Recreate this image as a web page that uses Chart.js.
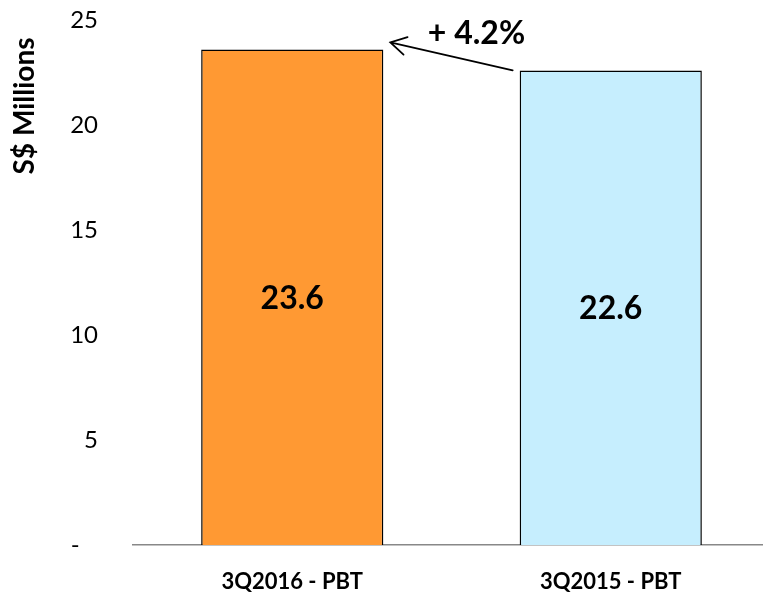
<!DOCTYPE html>
<html>
<head>
<meta charset="utf-8">
<script src="https://cdn.jsdelivr.net/npm/chart.js@4/dist/chart.umd.min.js"></script>
<style>
  html, body { margin: 0; padding: 0; background: #ffffff; }
  #wrap { width: 763px; height: 593px; overflow: hidden; }
  canvas { display: block; }
</style>
</head>
<body>
<div id="wrap"><canvas id="c" width="770" height="593"></canvas></div>
<script>
// Profit before tax, third quarter comparison
const categories = ['3Q2016 - PBT', '3Q2015 - PBT'];
const pbtValues = [23.6, 22.6];
const barColors = ['#FF9933', '#C6EEFE'];
const yAxisTitle = 'S$ Millions';
const changeLabel = '+ 4.2%';

const FONT = 'Lato, "Open Sans", sans-serif';

// Value printed in the middle of each bar
const barValueLabels = {
  id: 'barValueLabels',
  afterDatasetsDraw(chart) {
    const ctx = chart.ctx;
    const meta = chart.getDatasetMeta(0);
    ctx.save();
    ctx.font = 'bold 32px ' + FONT;
    ctx.fillStyle = '#000000';
    ctx.textAlign = 'center';
    ctx.textBaseline = 'middle';
    meta.data.forEach((bar, i) => {
      const p = bar.getProps(['x', 'y', 'base'], true);
      ctx.fillText(pbtValues[i].toFixed(1), p.x, (p.y + p.base) / 2 + 1);
    });
    ctx.restore();
  }
};

// Arrow from the 2015 bar to the 2016 bar with the growth label
const growthArrow = {
  id: 'growthArrow',
  afterDatasetsDraw(chart) {
    const ctx = chart.ctx;
    const meta = chart.getDatasetMeta(0);
    const a = meta.data[0].getProps(['x', 'y', 'width'], true);
    const b = meta.data[1].getProps(['x', 'y', 'width'], true);
    const sx = b.x - b.width / 2 - 7, sy = b.y;
    const ex = a.x + a.width / 2 + 7, ey = a.y - 7;
    const ang = Math.atan2(sy - ey, sx - ex);
    const arm = 18, spread = Math.PI / 6;
    ctx.save();
    ctx.strokeStyle = '#000000';
    ctx.lineWidth = 1.8;
    ctx.lineCap = 'round';
    ctx.beginPath();
    ctx.moveTo(sx, sy);
    ctx.lineTo(ex, ey);
    ctx.moveTo(ex + arm * Math.cos(ang - spread), ey + arm * Math.sin(ang - spread));
    ctx.lineTo(ex, ey);
    ctx.lineTo(ex + arm * Math.cos(ang + spread), ey + arm * Math.sin(ang + spread));
    ctx.stroke();
    ctx.font = 'bold 32px ' + FONT;
    ctx.fillStyle = '#000000';
    ctx.textAlign = 'center';
    ctx.textBaseline = 'middle';
    ctx.fillText(changeLabel, (sx + ex) / 2 + 25, (sy + ey) / 2 - 23);
    ctx.restore();
  }
};

// Rotated axis title near the top of the value axis
const yTitle = {
  id: 'yTitle',
  afterDraw(chart) {
    const ctx = chart.ctx;
    ctx.save();
    ctx.translate(25, 106);
    ctx.rotate(-Math.PI / 2);
    ctx.font = 'bold 28px ' + FONT;
    ctx.fillStyle = '#000000';
    ctx.textAlign = 'center';
    ctx.textBaseline = 'middle';
    ctx.fillText(yAxisTitle, 0, 0);
    ctx.restore();
  }
};

new Chart(document.getElementById('c'), {
  type: 'bar',
  data: {
    labels: categories,
    datasets: [{
      data: pbtValues,
      backgroundColor: barColors,
      borderColor: '#000000',
      borderWidth: 1.5,
      borderSkipped: 'bottom',
      barPercentage: 0.572,
      categoryPercentage: 1.0
    }]
  },
  options: {
    responsive: false,
    devicePixelRatio: 1,
    animation: false,
    layout: { padding: { top: 20, right: 0, bottom: 0, left: 0 } },
    plugins: {
      legend: { display: false },
      tooltip: { enabled: false }
    },
    scales: {
      x: {
        grid: { display: false, drawTicks: false },
        border: { display: true, color: '#888888', width: 1.5 },
        ticks: {
          padding: 24,
          color: '#000000',
          font: { family: FONT, size: 22, weight: 'bold' }
        },
        afterFit(scale) { scale.height = 48; }
      },
      y: {
        min: 0,
        max: 25,
        grid: { display: false, drawTicks: false },
        border: { display: false },
        ticks: {
          stepSize: 5,
          padding: 35,
          color: '#000000',
          font: { family: FONT, size: 24 },
          callback: (v) => (v === 0 ? '-   ' : String(v))
        },
        afterFit(scale) {
          scale.width = 133;
          scale.paddingTop = 0;
          scale.paddingBottom = 0;
        }
      }
    }
  },
  plugins: [barValueLabels, growthArrow, yTitle]
});
</script>
</body>
</html>
